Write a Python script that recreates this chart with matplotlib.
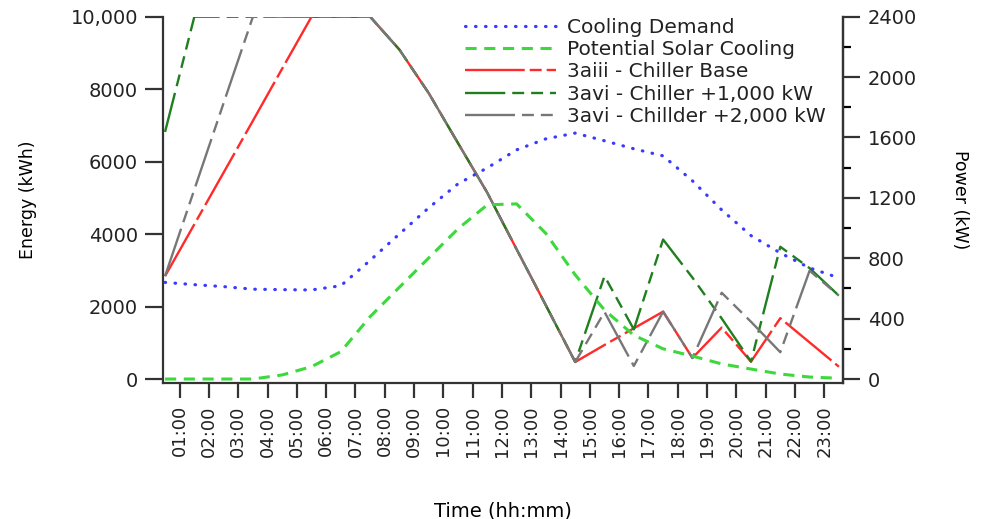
import matplotlib
matplotlib.use("Agg")
from matplotlib import pyplot as plt
from matplotlib.ticker import FixedLocator, MultipleLocator, FuncFormatter

# hourly data points, index 0..23
hour_idx = list(range(24))
tick_labels = ["%02d:00" % h for h in range(1, 24)]

# power series (kW, right axis)
cooling_demand = [640, 625, 612, 595, 592, 590, 618, 786, 961, 1134, 1293, 1399,
                  1518, 1591, 1629, 1578, 1525, 1478, 1313, 1120, 950, 835, 736, 670]
solar_cooling = [0, 0, 0, 0, 27, 82, 181, 413, 608, 802, 995, 1154,
                 1160, 964, 690, 457, 290, 200, 152, 100, 66, 33, 13, 5]

# storage energy series (kWh, left axis)
chiller_base = [2840, 4270, 5700, 7130, 8570, 10000, 10000, 10000, 9090, 7890, 6510, 5140,
                3580, 2030, 470, 940, 1400, 1860, 580, 1420, 480, 1680, 1010, 340]
chiller_1000 = [6820, 10000, 10000, 10000, 10000, 10000, 10000, 10000, 9090, 7890, 6510, 5140,
                3580, 2030, 470, 2840, 1370, 3850, 2800, 1670, 480, 3650, 3060, 2300]
chiller_2000 = [2840, 5230, 7620, 10000, 10000, 10000, 10000, 10000, 9090, 7890, 6510, 5140,
                3580, 2030, 470, 1850, 360, 1860, 580, 2380, 1580, 740, 2990, 2300]

ink = "#222222"
plt.rcParams["font.family"] = ["DejaVu Sans"]
plt.rcParams["text.color"] = ink
plt.rcParams["lines.scale_dashes"] = False

fig = plt.figure(figsize=(9.85, 5.19), dpi=100)
ax = fig.add_axes([163 / 985, 1 - 383 / 519, 680 / 985, 366.3 / 519])
ax2 = ax.twinx()

ax2.plot(hour_idx, cooling_demand, color="#3a3aff", lw=2.3, ls=(0, (0.4, 6.8)),
         dash_capstyle="round", label="Cooling Demand")
ax2.plot(hour_idx, solar_cooling, color="#3cd83c", lw=2.2, ls=(0, (8, 5.5)),
         label="Potential Solar Cooling")
ax.plot(hour_idx, chiller_base, color="#ff2a2a", lw=1.7, ls=(0, (43, 3.6, 8.6, 3.6)),
        label="3aiii - Chiller Base")
ax.plot(hour_idx, chiller_1000, color="#1f7f1f", lw=1.7,
        ls=(0, (29, 5, 8.6, 5, 8.6, 5, 8.6, 5)), label="3avi - Chiller +1,000 kW")
ax.plot(hour_idx, chiller_2000, color="#777777", lw=1.7, ls=(0, (36, 5, 8.6, 5, 8.6, 5)),
        label="3avi - Chillder +2,000 kW")

ax.set_xlim(-0.07, 23.14)
ax.set_ylim(-110, 10000)
ax2.set_ylim(-26.4, 2400)

ax.xaxis.set_major_locator(FixedLocator([h + 0.5 for h in range(23)]))
ax.set_xticklabels(tick_labels, rotation=90, fontsize=13)
ax.yaxis.set_major_locator(FixedLocator([0, 2000, 4000, 6000, 8000, 10000]))
ax.yaxis.set_major_formatter(FuncFormatter(lambda v, p: "10,000" if v == 10000 else "%d" % v))
ax2.yaxis.set_major_locator(MultipleLocator(400))
ax2.yaxis.set_minor_locator(MultipleLocator(200))

for a in (ax, ax2):
    a.spines["top"].set_visible(False)
    for s in a.spines.values():
        s.set_linewidth(1.6)
        s.set_color("#333333")
    a.tick_params(colors="#333333", labelcolor=ink, width=1.6, labelsize=14)
ax.tick_params(axis="x", labelsize=13, length=11, pad=5)
ax.tick_params(axis="y", length=13, pad=5)
ax2.tick_params(axis="y", which="major", length=12, pad=6)
ax2.tick_params(axis="y", which="minor", length=6, width=1.6)
ax2.spines["left"].set_visible(False)
ax2.spines["bottom"].set_visible(False)

ax.set_ylabel("Energy (kWh)", fontsize=12.5, labelpad=24)
ax2.set_ylabel("Power (kW)", fontsize=12.5, rotation=270, labelpad=37)
ax.set_xlabel("Time (hh:mm)", fontsize=14, labelpad=32)

h1, l1 = ax2.get_legend_handles_labels()
h2, l2 = ax.get_legend_handles_labels()
ax2.legend(h1 + h2, l1 + l2, loc="upper left", bbox_to_anchor=(465 / 985, 1 - 18 / 519),
           bbox_transform=fig.transFigure, frameon=False, fontsize=14.5,
           handlelength=4.5, handletextpad=0.55, labelspacing=0.16,
           borderpad=0, borderaxespad=0)

fig.savefig("out.png", dpi=100)
